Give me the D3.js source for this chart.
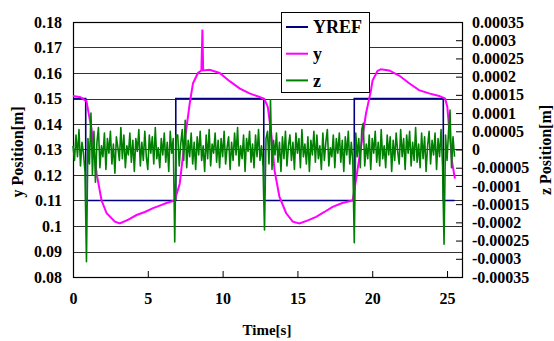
<!DOCTYPE html>
<html>
<head>
<meta charset="utf-8">
<script src="https://cdn.jsdelivr.net/npm/d3@7"></script>
<style>
  body { margin: 0; background: #fff; }
</style>
</head>
<body>
<svg id="chart" width="554" height="341"></svg>
<script>
// reference square wave
const refTimes  = [0, 0.85, 0.85, 6.87, 6.87, 12.75, 12.75, 18.8, 18.8, 24.75, 24.75, 25.5];
const refValues = [0.15, 0.15, 0.11, 0.11, 0.15, 0.15, 0.11, 0.11, 0.15, 0.15, 0.11, 0.11];

// measured y position
const yTimes = [0, 0.5, 0.9, 1.25, 1.58, 1.91, 2.25, 2.8, 3.13, 3.7, 4.25, 4.8, 5.35, 5.8, 6.25, 6.8,
  7.13, 7.47, 7.8, 8.02, 8.35, 8.58, 8.65, 8.7, 9.13, 9.8, 10.47, 11.13, 11.8, 12.47, 12.8,
  13.02, 13.25, 13.47, 13.8, 14.25, 14.69, 15.13, 15.7, 16.25, 16.8, 17.35, 18.0, 18.69,
  18.91, 19.25, 19.58, 19.91, 20.02, 20.35, 20.58, 21.13, 21.8, 22.47, 23.13, 23.8, 24.47, 24.87,
  25.02, 25.13, 25.35, 25.53];
const yValues = [0.151, 0.1505, 0.149, 0.1375, 0.1205, 0.110, 0.105, 0.1017, 0.101, 0.1025, 0.1043, 0.1055, 0.107, 0.108, 0.109, 0.110,
  0.1165, 0.1335, 0.148, 0.156, 0.160, 0.161, 0.177, 0.161, 0.1613, 0.160, 0.1568, 0.154, 0.152, 0.1506, 0.1497,
  0.1467, 0.1363, 0.1218, 0.1114, 0.105, 0.1017, 0.101, 0.1022, 0.1036, 0.1055, 0.1075, 0.109, 0.110,
  0.118, 0.131, 0.144, 0.153, 0.157, 0.1608, 0.1615, 0.161, 0.159, 0.156, 0.1533, 0.152, 0.151, 0.150,
  0.1467, 0.139, 0.1245, 0.1186];

// z position, one sample every 0.1 s, in micrometres
const zStep = 0.1;
const zMicrons = [
  10, -30, 40, -20, 55, -45, 20, -10, -60, -308, 30, -40, 100, -70, 50, -90, 20, 60, -50, 10,
  -20, 45, -55, 30, -10, 50, -40, 15, -65, 35, 5, -30, 60, -25, 40, -50, 10, -15, 45, -35,
  25, -60, 30, -5, 55, -45, 20, -30, 50, -20, -55, 40, -10, 35, -40, 60, -25, 5, -50, 30,
  -15, 45, -35, 20, -60, 50, -10, 30, -254, 40, 40, -45, 15, 55, -30, 80, -50, 25, -20, 45,
  -40, 20, -55, 35, -15, 50, -30, 10, -60, 40, -25, 55, -45, 15, -10, 45, -35, 25, -50, 30,
  -20, 50, -40, 5, 35, -55, 20, -30, 45, -15, 60, -45, 10, -25, 40, -60, 30, -5, 50, -35,
  15, -50, 40, -20, 55, -30, 10, -45, -221, 30, 50, -40, 136, -55, 25, -15, 45, -35, 20, -60,
  35, -25, 50, -45, 10, 40, -30, 20, -55, 45, -10, 30, -50, 55, -20, 15, -40, 35, -60, 25,
  -15, 50, -35, 40, -25, 10, -55, 45, -30, 20, 55, -45, 5, -20, 40, -50, 30, -10, 45, -35,
  25, -60, 35, -15, 50, -40, 20, -30, -256, 45, -20, 30, -50, 55, 72, -45, 15, -25, 40, -55,
  30, -10, 50, -35, 20, -45, 55, -25, 10, -50, 40, -15, 35, -60, 25, -30, 45, -5, -40, 55,
  -20, 30, -55, 40, -10, 50, -45, 20, -30, 60, -35, 15, -50, 45, -25, 35, -60, 10, 50, -40,
  25, -15, 45, -55, 30, -20, 55, -45, -260, 40, -30, 50, 108, -50, 35, -20
];

const xTicks = [0, 5, 10, 15, 20, 25];
const yTicks = [0.08, 0.09, 0.1, 0.11, 0.12, 0.13, 0.14, 0.15, 0.16, 0.17, 0.18];
const zTicks = [-0.00035, -0.0003, -0.00025, -0.0002, -0.00015, -0.0001, -0.00005, 0,
  0.00005, 0.0001, 0.00015, 0.0002, 0.00025, 0.0003, 0.00035];

const legendItems = [
  { name: 'YREF', color: '#000080' },
  { name: 'y', color: '#ff00ff' },
  { name: 'z', color: '#008000' }
];

const plotLeft = 73, plotRight = 462, plotTop = 22, plotBottom = 277;
const serif = '"Liberation Serif", "Times New Roman", Times, serif';

const svg = d3.select('#chart');

const x = d3.scaleLinear().domain([0, 26]).range([plotLeft, plotRight]);
const yL = d3.scaleLinear().domain([0.08, 0.18]).range([plotBottom, plotTop]);
const yR = d3.scaleLinear().domain([-0.00035, 0.00035]).range([plotBottom, plotTop]);

// grid
svg.append('g')
  .selectAll('line')
  .data(yTicks)
  .join('line')
    .attr('x1', plotLeft)
    .attr('x2', plotRight)
    .attr('y1', d => Math.round(yL(d)) + 0.5)
    .attr('y2', d => Math.round(yL(d)) + 0.5)
    .attr('stroke', '#333')
    .attr('stroke-width', 1);

// axes
const axisLeft = svg.append('g')
  .attr('transform', `translate(${plotLeft},0)`)
  .call(d3.axisLeft(yL).tickValues(yTicks).tickSize(0).tickPadding(11)
    .tickFormat(d => String(+d.toFixed(2))));
axisLeft.select('.domain').remove();

const axisRight = svg.append('g')
  .attr('transform', `translate(${plotRight},0)`)
  .call(d3.axisRight(yR).tickValues(zTicks).tickSizeInner(-6).tickSizeOuter(0).tickPadding(10)
    .tickFormat(d => String(+d.toFixed(5))));
axisRight.select('.domain').remove();

const axisBottom = svg.append('g')
  .attr('transform', `translate(0,${plotBottom})`)
  .call(d3.axisBottom(x).tickValues(xTicks).tickSizeInner(-6).tickSizeOuter(0).tickPadding(16)
    .tickFormat(d3.format('d')));
axisBottom.select('.domain').remove();

svg.selectAll('.tick text')
  .attr('fill', '#000')
  .style('font-size', '16px');
svg.selectAll('.tick line').attr('stroke', '#000');

// plot frame
svg.append('rect')
  .attr('x', plotLeft + 0.5)
  .attr('y', plotTop + 0.5)
  .attr('width', plotRight - plotLeft)
  .attr('height', plotBottom - plotTop)
  .attr('fill', 'none')
  .attr('stroke', '#000')
  .attr('stroke-width', 1.2);

// series
const refData = refTimes.map((t, i) => [t, refValues[i]]);
const yData = yTimes.map((t, i) => [t, yValues[i]]);
const zData = zMicrons.map((v, i) => [i * zStep, v * 1e-6]);

svg.append('path')
  .datum(refData)
  .attr('d', d3.line().x(d => x(d[0])).y(d => yL(d[1])))
  .attr('fill', 'none')
  .attr('stroke', '#000080')
  .attr('stroke-width', 1.6);

svg.append('path')
  .datum(yData)
  .attr('d', d3.line().x(d => x(d[0])).y(d => yL(d[1])))
  .attr('fill', 'none')
  .attr('stroke', '#ff00ff')
  .attr('stroke-width', 2);

svg.append('path')
  .datum(zData)
  .attr('d', d3.line().x(d => x(d[0])).y(d => yR(d[1])))
  .attr('fill', 'none')
  .attr('stroke', '#008000')
  .attr('stroke-width', 1.6)
  .attr('stroke-linejoin', 'round');

// legend
const legend = svg.append('g').attr('transform', 'translate(281,12)');
legend.append('rect')
  .attr('x', 0.5).attr('y', 0.5)
  .attr('width', 88).attr('height', 80)
  .attr('fill', '#fff')
  .attr('stroke', '#000');

const entry = legend.selectAll('g.entry')
  .data(legendItems)
  .join('g')
    .attr('class', 'entry')
    .attr('transform', (d, i) => `translate(0,${15 + i * 26.7})`);
entry.append('line')
  .attr('x1', 5).attr('x2', 27)
  .attr('stroke', d => d.color)
  .attr('stroke-width', 2);
entry.append('text')
  .attr('x', 32)
  .attr('dy', '0.35em')
  .style('font-size', '18px')
  .text(d => d.name);

// axis titles
svg.append('text')
  .attr('transform', 'translate(17,152) rotate(-90)')
  .attr('text-anchor', 'middle')
  .attr('dy', '0.35em')
  .style('font-size', '16px')
  .text('y Position[m]');

svg.append('text')
  .attr('transform', 'translate(545,150) rotate(-90)')
  .attr('text-anchor', 'middle')
  .attr('dy', '0.35em')
  .style('font-size', '16px')
  .text('z Position[m]');

svg.append('text')
  .attr('x', 267)
  .attr('y', 330)
  .attr('text-anchor', 'middle')
  .attr('dy', '0.35em')
  .style('font-size', '15px')
  .text('Time[s]');

svg.selectAll('text')
  .style('font-family', serif)
  .style('font-weight', 'bold');
</script>
</body>
</html>
